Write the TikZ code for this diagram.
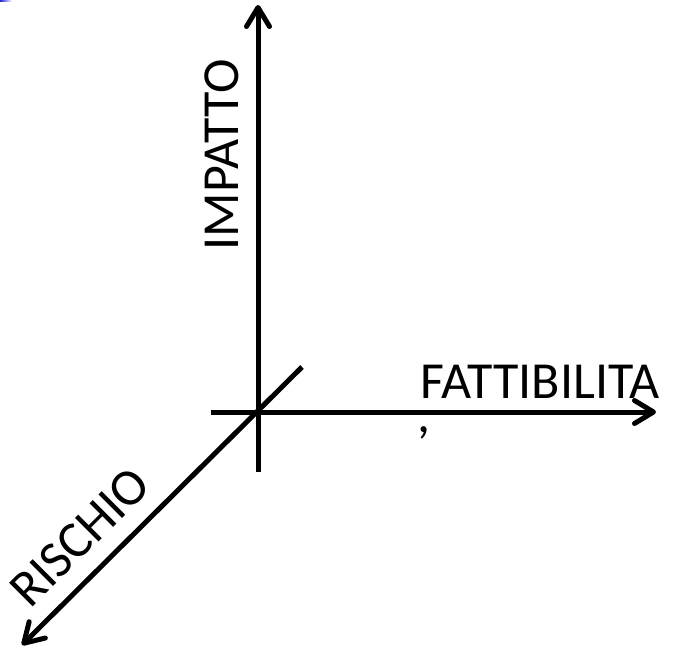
\documentclass[tikz,border=0pt]{standalone}
\usepackage{fontspec}
\setmainfont{Carlito}
\usetikzlibrary{arrows.meta}
\begin{document}
\begin{tikzpicture}[x=1pt,y=-1pt,
  axis/.style={line width=5pt},
  axisarrow/.style={axis,-{Straight Barb[length=19pt,width=23pt,round]}},
  lbl/.style={inner sep=0pt,font=\fontsize{52}{60}\selectfont}]
\useasboundingbox (0,0) rectangle (675,652);
\shade[left color=blue!70!gray,right color=white] (0,0) rectangle (12,1.2);
\coordinate (o) at (258,412);
\coordinate (vb) at (258,472);
\coordinate (vt) at (258,5);
\coordinate (hl) at (211,412);
\coordinate (hr) at (656,412);
\coordinate (dt) at (302,367);
\coordinate (db) at (22,645);
\draw[axisarrow] (vb) -- (vt);
\draw[axisarrow] (hl) -- (hr);
\draw[axisarrow] (dt) -- (db);
\node[lbl,rotate=90] (imp) at (222,155) {IMPATTO};
\node[lbl] (fat) at (540,381.5) {FATTIBILITA};
\node[lbl] (acc) at (424,433) {,};
\node[lbl,rotate=45] (ris) at (80,537) {RISCHIO};
\end{tikzpicture}
\end{document}
